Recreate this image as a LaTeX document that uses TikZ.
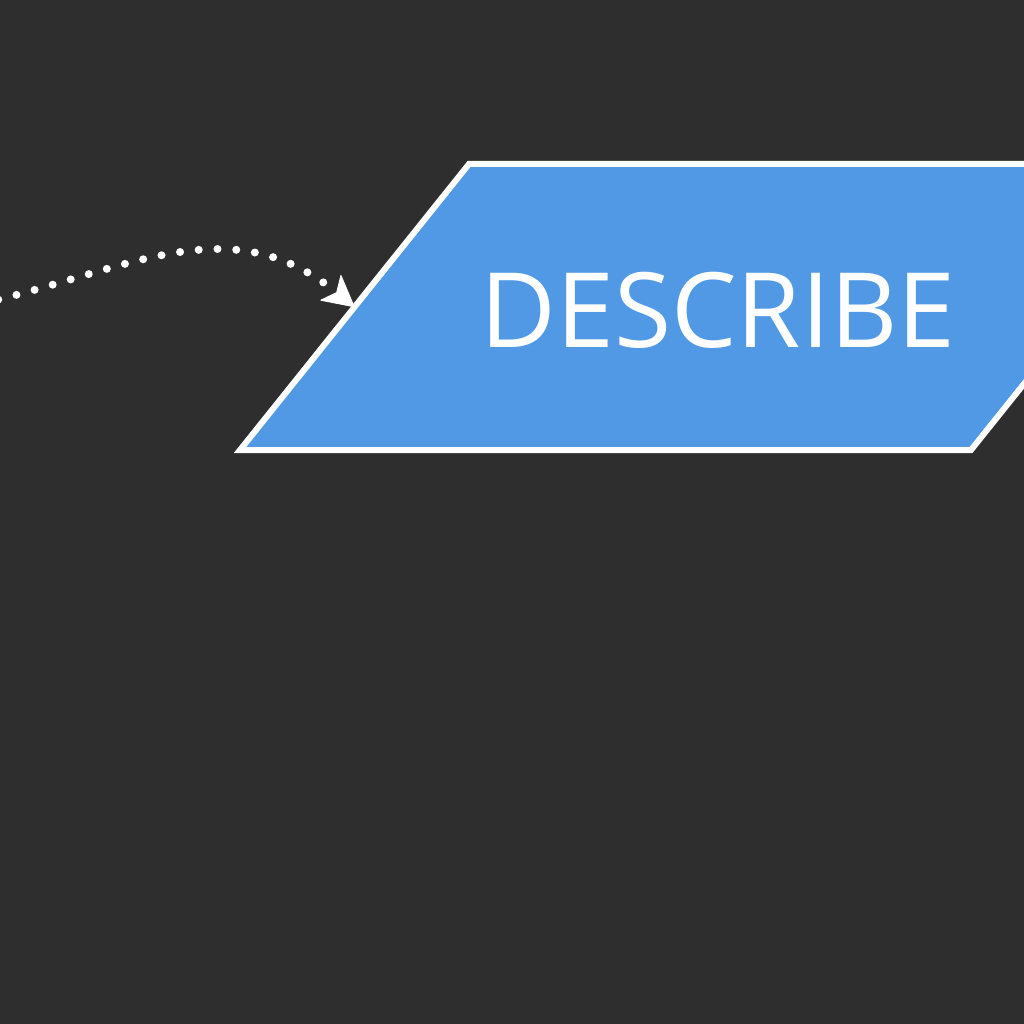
\documentclass[tikz,border=0pt]{standalone}
\usepackage{fontspec}
\setmainfont{Open Sans}
\usetikzlibrary{arrows.meta,calc}
\definecolor{bgdark}{HTML}{2E2E2E}
\definecolor{boxblue}{HTML}{5199E5}
\tikzset{
  flowbox/.style={fill=boxblue,draw=white,line width=6pt,line join=miter},
  flowtext/.style={text=white,font=\fontsize{104}{120}\selectfont,inner sep=0pt},
  dotlink/.style={draw=white,line width=8pt,line cap=round,dash pattern=on 0pt off 18.8pt,
    -{Stealth[length=32pt,width=34pt,inset=8pt,line width=1pt,round]}}
}
\begin{document}
\begin{tikzpicture}[x=1pt,y=-1pt]
\clip (0,0) rectangle (1024,1024);
\fill[bgdark] (0,0) rectangle (1024,1024);
% parallelogram
\coordinate (bl) at (240,450);
\coordinate (tl) at (469,164);
\coordinate (tr) at (1200,164);
\coordinate (br) at (971,450);
\draw[flowbox] (bl) -- (tl) -- (tr) -- (br) -- cycle;
\coordinate (descleft) at ($(bl)!0.5!(tl)$);
\node[flowtext] (desc) at (718,310) {DESCRIBE};
% dotted connector
\coordinate (start) at (-20,304);
\draw[dotlink] (start) .. controls (130,269.5) and (230,206) .. (descleft);
\end{tikzpicture}
\end{document}
